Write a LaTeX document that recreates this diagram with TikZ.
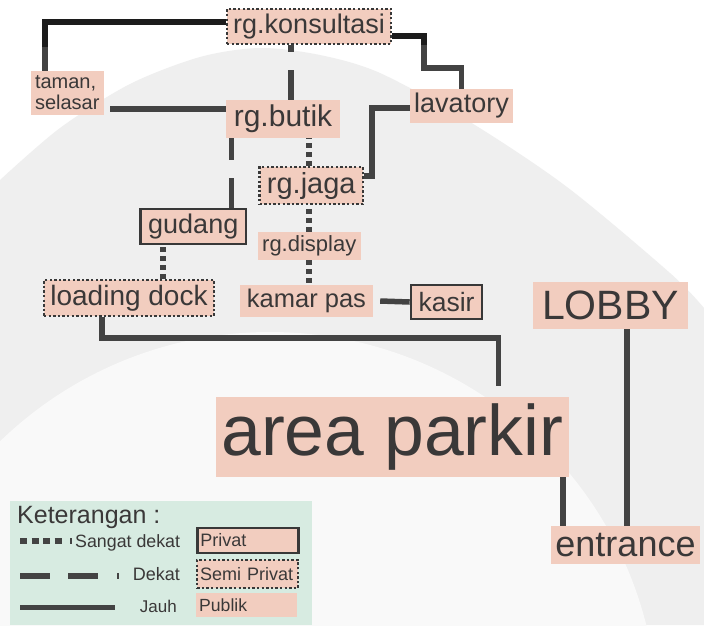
\documentclass[tikz,border=0pt]{standalone}
\usepackage{fontspec}
\setmainfont{Liberation Sans}
\definecolor{peach}{HTML}{F2CDBF}
\definecolor{ink}{HTML}{3A3838}
\definecolor{lnk}{HTML}{434343}
\definecolor{lnkdark}{HTML}{1C1C1C}
\definecolor{edge}{HTML}{383838}
\definecolor{legendbg}{HTML}{D7EBE1}
\definecolor{wmgrey}{HTML}{EFEFEF}
\definecolor{wmwhite}{HTML}{F9F9F9}
\begin{document}
\begin{tikzpicture}[x=1pt,y=-1pt,
  room/.style={fill=peach, text=ink, inner sep=0pt},
  fs/.style={font=\fontsize{#1pt}{#1pt}\selectfont},
  sz/.style 2 args={minimum width=#1pt, minimum height=#2pt},
  privat/.style={draw=edge, line width=2.6pt},
  semi/.style={draw=edge, line width=2.4pt, dash pattern=on 2.4pt off 2.2pt},
  jauh/.style={draw=lnk, line width=5.5pt},
  dekat/.style={draw=lnk, line width=5.5pt, dash pattern=on 30pt off 18pt},
  sdekat/.style={draw=lnk, line width=6pt, dash pattern=on 5pt off 4pt},
  legtext/.style={text=ink, inner sep=0pt},
  legbox/.style={room, anchor=west, text width=95pt, inner xsep=3pt, align=left}]

\useasboundingbox (0,0) rectangle (704,625);
% background with the faint seal
\fill[white] (0,0) rectangle (704,625);
\fill[wmgrey] (0,625) -- plot[smooth] coordinates {(0,180) (60,128) (130,84) (200,57) (260,48) (320,55) (380,73) (470,122) (567,187) (670,273) (704,308)} -- (704,625) -- cycle;
\begin{scope}
  \clip (0,0) rectangle (704,625);
  \fill[wmwhite] (270,720) circle (388pt);
\end{scope}

% legend panel
\fill[legendbg] (10,501) rectangle (312,625);

% rooms
\node[room,semi,fs=27,sz={164}{35}] (kons) at (309,26.5) {rg.konsultasi};
\node[room,sz={73.5}{44},align=left,font=\fontsize{20pt}{21pt}\selectfont] (taman) at (67.25,93) {taman,\\selasar};
\node[room,fs=30,sz={114}{38}] (butik) at (283,119) {rg.butik};
\node[room,fs=27,sz={103}{34}] (lav) at (461.5,106) {lavatory};
\node[room,semi,fs=29,sz={103.5}{37}] (jaga) at (311.25,185.5) {rg.jaga};
\node[room,privat,fs=27,sz={105.5}{35}] (gud) at (193.25,226.5) {gudang};
\node[room,fs=22,sz={102.5}{28}] (disp) at (309.25,246) {rg.display};
\node[room,semi,fs=28,sz={170}{36}] (load) at (129,298) {loading dock};
\node[room,fs=25.5,sz={133}{32}] (kamar) at (306.5,301) {kamar pas};
\node[room,privat,fs=26.5,sz={71}{34}] (kasir) at (446.5,302) {kasir};
\node[room,fs=41,sz={155}{47}] (lobby) at (610.5,305.5) {LOBBY};
\node[room,fs=71.5,sz={353.5}{80}] (park) at (392.25,437) {area parkir};
\node[room,fs=36,sz={149}{38}] (ent) at (625.5,545) {entrance};

% bend points
\coordinate (tbend) at (45,47);
\coordinate (lv1) at (424,45);
\coordinate (lv2) at (424,68);
\coordinate (lj) at (372,176);
\coordinate (pk) at (498.5,338);

% far (solid) links
\draw[jauh,draw=lnkdark] ([yshift=4.5pt]kons.west) -| (tbend);
\draw[jauh] (tbend) -- (taman.north -| tbend);
\draw[jauh,draw=lnkdark] ([yshift=-9.5pt]kons.east) -| (lv1);
\draw[jauh] (lv1) -- (lv2) -| (lav.north);
\draw[jauh] ([shift={(6pt,-16pt)}]taman.east) -- ([yshift=10pt]butik.west);
\draw[jauh] ([yshift=-2pt]lav.west) -| (lj) -- ([yshift=9.5pt]jaga.east);
\draw[jauh] ([xshift=7pt]kamar.east) -- (kasir.west);
\draw[jauh] ([xshift=-27pt]load.south) |- (pk) -- ([yshift=11pt]park.north -| pk);
\draw[jauh] ([xshift=-62.5pt]ent.north) -- ([xshift=-62.5pt]ent.north |- park.south);
\draw[jauh] ([xshift=16.5pt]lobby.south) -- ([xshift=16.5pt]lobby.south |- ent.north);

% near (dashed) links
\draw[dekat] ([xshift=8pt]butik.north) -- ([xshift=8pt]butik.north |- kons.south);
\draw[dekat] ([xshift=38pt]gud.north) -- ([xshift=38pt]gud.north |- butik.south);

% very near (dotted) links
\draw[sdekat] ([xshift=-2pt]jaga.north) -- ([xshift=-2pt]jaga.north |- butik.south);
\draw[sdekat] (disp.north) -- (disp.north |- jaga.south);
\draw[sdekat] (disp.south) -- (disp.south |- kamar.north);
\draw[sdekat] ([xshift=33.5pt]load.north) -- ([xshift=33.5pt]load.north |- gud.south);

% legend
\node[legtext,anchor=base west,fs=25] (ket) at (17,523) {Keterangan :};
\node[legtext,anchor=base west,fs=17.8] (lsd) at (75,547) {Sangat dekat};
\node[legtext,anchor=base east,fs=18] (ldk) at (180,580) {Dekat};
\node[legtext,anchor=base east,fs=17] (ljh) at (177,612) {Jauh};
\node[legbox,privat,minimum height=25pt,fs=18] (lpriv) at (196,540.5) {Privat};
\node[legbox,semi,minimum height=28pt,fs=18] (lsemi) at (196,574) {Semi\ Privat};
\node[legbox,minimum height=24pt,fs=17.6] (lpub) at (196,605) {Publik};

\draw[lnk,line width=6pt,dash pattern=on 7pt off 4.5pt] (20,541) -- (62,541);
\draw[lnk,line width=1.8pt] (71,538) -- (71,544);
\draw[lnk,line width=5.5pt] (20,576) -- (50,576) (68,576) -- (98,576);
\draw[lnk,line width=2pt] (118,573) -- (118,579);
\draw[lnk,line width=5.5pt] (20,607.5) -- (115,607.5);
\end{tikzpicture}
\end{document}
